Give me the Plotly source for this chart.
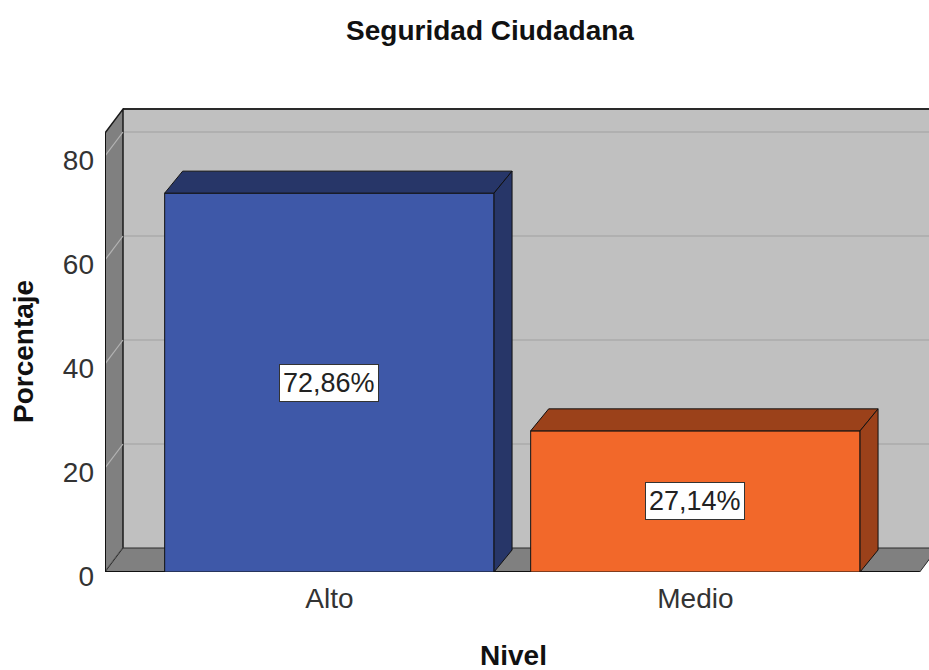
import plotly.graph_objects as go

# datos
categorias = ["Alto", "Medio"]
porcentajes = [72.86, 27.14]
etiquetas = ["72,86%", "27,14%"]
ticks_y = [0, 20, 40, 60, 80]

colores_frente = ["#3E58A8", "#F2682A"]
colores_lado = ["#273668", "#9B411A"]

# geometria en pixeles
W, H = 929, 670
M_L, M_R, M_T, M_B = 105, 0, 108, 98
PX_X = 366.0   # px por categoria
PX_Y = 5.2     # px por punto porcentual
X_MIN = -0.613
plot_w = W - M_L - M_R
plot_h = H - M_T - M_B
X_MAX = X_MIN + plot_w / PX_X
Y_MAX = plot_h / PX_Y

# profundidad del efecto 3D, en unidades de datos
DX = 18 / PX_X
DY_PARED = 24 / PX_Y
DY_BARRA = 22 / PX_Y
TOPE = 84.4          # borde superior de la pared (frente)
X_SUELO = 1.613      # extremo derecho del suelo (frente)
ANCHO = 0.9

FUENTE = "Liberation Sans, Arial, sans-serif"

shapes = []
# pared del fondo
shapes.append(dict(type="rect", xref="x", yref="y", layer="below",
                   x0=X_MIN + DX, x1=X_MAX + 1, y0=DY_PARED, y1=TOPE + DY_PARED,
                   fillcolor="#C0C0C0", line=dict(width=0)))
# lineas de cuadricula en la pared del fondo
for v in ticks_y[1:]:
    shapes.append(dict(type="line", xref="x", yref="y", layer="below",
                       x0=X_MIN + DX, x1=X_MAX + 1, y0=v + DY_PARED, y1=v + DY_PARED,
                       line=dict(color="#ABABAB", width=1.5)))
# borde superior de la pared
shapes.append(dict(type="line", xref="x", yref="y", layer="below",
                   x0=X_MIN + DX, x1=X_MAX + 1, y0=TOPE + DY_PARED, y1=TOPE + DY_PARED,
                   line=dict(color="#2A2A2A", width=2)))
# pared lateral
shapes.append(dict(type="path", xref="x", yref="y", layer="below",
                   path=f"M {X_MIN},0 L {X_MIN + DX},{DY_PARED} L {X_MIN + DX},{TOPE + DY_PARED} "
                        f"L {X_MIN},{TOPE} Z",
                   fillcolor="#808080", line=dict(color="#1A1A1A", width=1.5)))
for v in ticks_y:
    shapes.append(dict(type="line", xref="x", yref="y", layer="below",
                       x0=X_MIN, x1=X_MIN + DX, y0=v, y1=v + DY_PARED,
                       line=dict(color="#B4B4B4", width=1.2)))
# suelo
shapes.append(dict(type="path", xref="x", yref="y", layer="below",
                   path=f"M {X_MIN},0 L {X_SUELO},0 L {X_SUELO + DX},{DY_PARED} "
                        f"L {X_MAX + 1},{DY_PARED} L {X_MIN + DX},{DY_PARED} Z",
                   fillcolor="#808080", line=dict(color="#2A2A2A", width=1)))
shapes.append(dict(type="line", xref="x", yref="y", layer="below",
                   x0=X_MIN, x1=X_SUELO, y0=0, y1=0,
                   line=dict(color="#111111", width=2)))
shapes.append(dict(type="line", xref="x", yref="y", layer="below",
                   x0=X_MIN, x1=X_MIN, y0=0, y1=TOPE,
                   line=dict(color="#111111", width=2)))

fig = go.Figure()

# caras superior y lateral de las barras
for i, v in enumerate(porcentajes):
    x0, x1 = i - ANCHO / 2, i + ANCHO / 2
    fig.add_trace(go.Scatter(
        x=[x0, x1, x1 + DX, x0 + DX, x0],
        y=[v, v, v + DY_BARRA, v + DY_BARRA, v],
        mode="lines", fill="toself", fillcolor=colores_lado[i],
        line=dict(color="#111111", width=1), hoverinfo="skip", showlegend=False))
    fig.add_trace(go.Scatter(
        x=[x1, x1 + DX, x1 + DX, x1, x1],
        y=[0, DY_BARRA, v + DY_BARRA, v, 0],
        mode="lines", fill="toself", fillcolor=colores_lado[i],
        line=dict(color="#111111", width=1), hoverinfo="skip", showlegend=False))

# caras frontales
fig.add_trace(go.Bar(
    x=list(range(len(categorias))), y=porcentajes, width=ANCHO,
    marker=dict(color=colores_frente, line=dict(color="#111111", width=1)),
    hoverinfo="skip", showlegend=False))

annotations = []
for i, v in enumerate(porcentajes):
    annotations.append(dict(x=i, y=v / 2, xref="x", yref="y", text=etiquetas[i],
                            showarrow=False, bgcolor="white", bordercolor="#333333",
                            borderwidth=1, borderpad=3,
                            font=dict(family=FUENTE, size=27, color="#222222")))
annotations.append(dict(x=(23 - M_L) / plot_w, y=(H - M_B - 352) / plot_h,
                        xref="paper", yref="paper", xanchor="center", yanchor="middle",
                        text="<b>Porcentaje</b>", textangle=-90,
                        showarrow=False, font=dict(family=FUENTE, size=28, color="#111111")))
annotations.append(dict(x=(513 - M_L) / plot_w, y=(H - M_B - 655) / plot_h,
                        xref="paper", yref="paper", xanchor="center", yanchor="middle",
                        text="<b>Nivel</b>",
                        showarrow=False, font=dict(family=FUENTE, size=28, color="#111111")))

fig.update_layout(
    width=W, height=H,
    margin=dict(l=M_L, r=M_R, t=M_T, b=M_B),
    paper_bgcolor="white", plot_bgcolor="white",
    title=dict(text="<b>Seguridad Ciudadana</b>", x=490 / W, y=1 - 30 / H,
               xanchor="center", yanchor="middle",
               font=dict(family=FUENTE, size=28, color="#111111")),
    xaxis=dict(range=[X_MIN, X_MAX], tickvals=list(range(len(categorias))),
               ticktext=categorias, showgrid=False, zeroline=False, showline=False,
               ticks="", ticklabelstandoff=7,
               tickfont=dict(family=FUENTE, size=28, color="#333333")),
    yaxis=dict(range=[0, Y_MAX], tickvals=ticks_y, showgrid=False, zeroline=False,
               showline=False, ticks="", ticklabelstandoff=10, ticklabelshift=4,
               tickfont=dict(family=FUENTE, size=28, color="#333333")),
    shapes=shapes, annotations=annotations,
)

fig.write_html("out.html", config={"displayModeBar": False},
               post_script="document.body.style.margin='0';")
